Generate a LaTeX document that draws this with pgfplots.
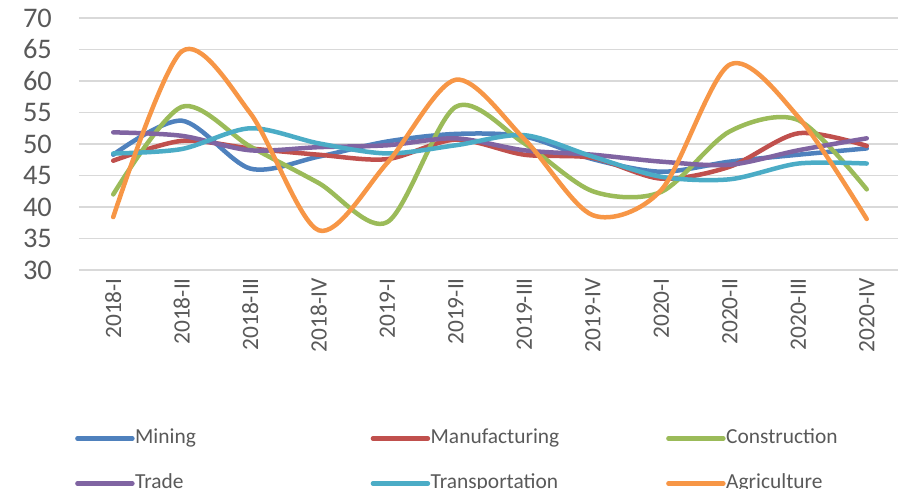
\documentclass[border=0pt]{standalone}
\usepackage{pgfplots}
\pgfplotsset{compat=1.18}
\usepackage{fontspec}
\setmainfont{Carlito}
\definecolor{cMin}{HTML}{4F81BD}
\definecolor{cMan}{HTML}{C0504D}
\definecolor{cCon}{HTML}{9BBB59}
\definecolor{cTra}{HTML}{8064A2}
\definecolor{cTrn}{HTML}{4BACC6}
\definecolor{cAgr}{HTML}{F79646}
\definecolor{txt}{HTML}{595959}
\definecolor{grid}{HTML}{D9D9D9}
\begin{document}
\begin{tikzpicture}
\begin{axis}[
  at={(0bp,0bp)}, anchor=south west,
  scale only axis, width=822bp, height=252bp,
  xmin=-0.5, xmax=11.5, ymin=30, ymax=70,
  axis line style={draw=none},
  tick style={draw=none},
  major tick length=0pt,
  ytick={30,35,...,70},
  ymajorgrids,
  major grid style={color=grid, line width=1.3bp},
  xtick={0,...,11},
  xticklabels={2018-I,2018-II,2018-III,2018-IV,2019-I,2019-II,2019-III,2019-IV,2020-I,2020-II,2020-III,2020-IV},
  /pgf/number format/assume math mode=true,
  yticklabel style={font=\fontsize{28.5}{31}\selectfont, text=txt, inner sep=0pt, anchor=east, xshift=-27bp},
  xticklabel style={font=\fontsize{23.5}{25}\selectfont, text=txt, inner sep=0pt, rotate=90, anchor=east, xshift=-8bp},
  legend columns=3,
  legend style={at={(-7bp,-203bp)}, anchor=west, draw=none, fill=none,
    font=\fontsize{21.5}{24}\selectfont, text=txt,
    column sep=0pt, row sep=0pt,
    nodes={inner xsep=0.5bp, inner ysep=0pt, text width=235bp, align=left, text height=15bp, text depth=30bp},
  },
  legend image code/.code={\draw[#1, line width=4.5bp, line cap=round] (0bp,12bp) -- (55bp,12bp);},
  every axis plot/.append style={line width=4.5bp, smooth, line cap=round, line join=round},
]
\addplot[cMin] coordinates {(0,48.3) (1,53.7) (2,46.1) (3,48.0) (4,50.4) (5,51.6) (6,51.2) (7,47.6) (8,45.6) (9,47.2) (10,48.3) (11,49.3)};
\addlegendentry{Mining}
\addplot[cMan] coordinates {(0,47.35) (1,50.5) (2,49.3) (3,48.3) (4,47.6) (5,50.7) (6,48.3) (7,47.8) (8,44.5) (9,46.4) (10,51.7) (11,49.7)};
\addlegendentry{Manufacturing}
\addplot[cCon] coordinates {(0,42.0) (1,55.9) (2,49.6) (3,43.8) (4,37.6) (5,55.9) (6,50.1) (7,42.5) (8,42.4) (9,52.0) (10,53.8) (11,42.8)};
\addlegendentry{Construction}
\addplot[cTra] coordinates {(0,51.85) (1,51.3) (2,49.0) (3,49.5) (4,49.8) (5,50.9) (6,49.0) (7,48.3) (8,47.2) (9,46.7) (10,49.0) (11,50.9)};
\addlegendentry{Trade}
\addplot[cTrn] coordinates {(0,48.5) (1,49.2) (2,52.5) (3,50.1) (4,48.5) (5,49.8) (6,51.4) (7,48.0) (8,44.8) (9,44.4) (10,46.9) (11,46.9)};
\addlegendentry{Transportation}
\addplot[cAgr] coordinates {(0,38.4) (1,64.7) (2,54.9) (3,36.3) (4,47.0) (5,60.2) (6,50.8) (7,38.7) (8,42.7) (9,62.6) (10,54.3) (11,38.1)};
\addlegendentry{Agriculture}
\end{axis}
\pgfresetboundingbox
\path[use as bounding box] (-79bp,-219bp) rectangle (819bp,270bp);
\end{tikzpicture}
\end{document}
